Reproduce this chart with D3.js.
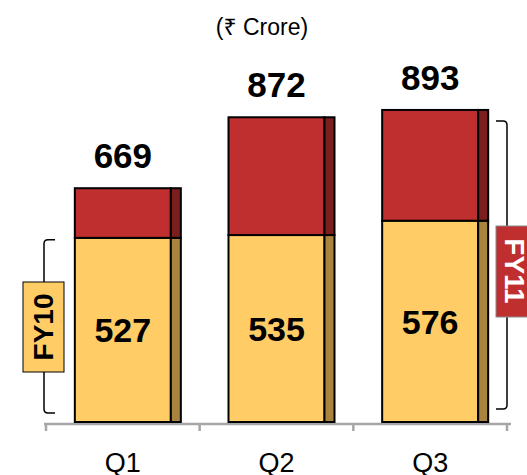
<!DOCTYPE html>
<html>
<head>
<meta charset="utf-8">
<script src="https://cdn.jsdelivr.net/npm/d3@7"></script>
<style>
  body { margin: 0; background: #fff; }
  svg { display: block; font-family: "Liberation Sans", Arial, "Noto Sans", "DejaVu Sans", sans-serif; }
</style>
</head>
<body>
<svg id="chart" width="527" height="475"></svg>
<script>
var quarters = ["Q1", "Q2", "Q3"];
var fy10 = [527, 535, 576];
var totals = [669, 872, 893];
var unitLabel = "(\u20B9 Crore)";

var yellow = "#FFCC66", yellowSide = "#A8843E";
var red = "#BF2F2F", redSide = "#7A1E1E";

var svg = d3.select("#chart");

var xScale = d3.scaleBand()
                .domain(quarters)
                .range([46, 507])
                .padding(0);
var yScale = d3.scaleLinear()
                .domain([0, 900])
                .range([422, 107.5]);

var faceW = 96, sideW = 10;

function faceX(q) { return xScale(q) + xScale.bandwidth()/2 - faceW/2; }

// title
svg.append("text")
    .attr("x", 262).attr("y", 35)
    .attr("text-anchor", "middle")
    .attr("font-size", 23)
    .text(unitLabel);

// axis
var axis = svg.append("g").attr("stroke", "#a6a6a6").attr("stroke-width", 2.5);
axis.append("line")
    .attr("x1", 44).attr("x2", 511)
    .attr("y1", 424).attr("y2", 424);
var edges = quarters.map(function(q) { return xScale(q); }).concat([xScale.range()[1]]);
axis.selectAll("line.tick")
    .data(edges)
    .enter().append("line")
    .attr("class", "tick")
    .attr("x1", function(d) { return d; }).attr("x2", function(d) { return d; })
    .attr("y1", 424).attr("y2", 431);

svg.selectAll("text.q")
    .data(quarters)
    .enter().append("text")
    .attr("class", "q")
    .attr("x", function(d) { return xScale(d) + xScale.bandwidth()/2; })
    .attr("y", 472)
    .attr("text-anchor", "middle")
    .attr("font-size", 27)
    .text(function(d) { return d; });

// bars
var data = quarters.map(function(q, i) { return {q: q, base: fy10[i], total: totals[i]}; });

var bar = svg.selectAll("g.bar")
    .data(data)
    .enter().append("g")
    .attr("class", "bar")
    .attr("stroke", "#000")
    .attr("stroke-width", 2);

// lower (FY10) segment
bar.append("rect")
    .attr("x", function(d) { return faceX(d.q); })
    .attr("y", function(d) { return yScale(d.base); })
    .attr("width", faceW)
    .attr("height", function(d) { return yScale(0) - yScale(d.base); })
    .attr("fill", yellow);
bar.append("rect")
    .attr("x", function(d) { return faceX(d.q) + faceW; })
    .attr("y", function(d) { return yScale(d.base); })
    .attr("width", sideW)
    .attr("height", function(d) { return yScale(0) - yScale(d.base); })
    .attr("fill", yellowSide);

// upper (FY11 increment) segment
bar.append("rect")
    .attr("x", function(d) { return faceX(d.q); })
    .attr("y", function(d) { return yScale(d.total); })
    .attr("width", faceW)
    .attr("height", function(d) { return yScale(d.base) - yScale(d.total); })
    .attr("fill", red);
bar.append("rect")
    .attr("x", function(d) { return faceX(d.q) + faceW; })
    .attr("y", function(d) { return yScale(d.total); })
    .attr("width", sideW)
    .attr("height", function(d) { return yScale(d.base) - yScale(d.total); })
    .attr("fill", redSide);

// labels
svg.selectAll("text.total")
    .data(data)
    .enter().append("text")
    .attr("class", "total")
    .attr("x", function(d) { return faceX(d.q) + faceW/2; })
    .attr("y", function(d) { return yScale(d.total) - 20; })
    .attr("text-anchor", "middle")
    .attr("font-size", 35)
    .attr("font-weight", "bold")
    .text(function(d) { return d.total; });

svg.selectAll("text.base")
    .data(data)
    .enter().append("text")
    .attr("class", "base")
    .attr("x", function(d) { return faceX(d.q) + faceW/2; })
    .attr("y", function(d) { return (yScale(0) + yScale(d.base))/2 + 12.5; })
    .attr("text-anchor", "middle")
    .attr("font-size", 34)
    .attr("font-weight", "bold")
    .text(function(d) { return d.base; });

// brackets
function bracket(x, y1, y2, dir) {
  var s = 11 * dir, r = 4;
  return "M" + (x + s) + "," + y1 +
         " L" + (x + r*dir) + "," + y1 +
         " Q" + x + "," + y1 + " " + x + "," + (y1 + r) +
         " L" + x + "," + (y2 - r) +
         " Q" + x + "," + y2 + " " + (x + r*dir) + "," + y2 +
         " L" + (x + s) + "," + y2;
}

svg.append("path")
    .attr("d", bracket(44, yScale(fy10[0]) + 2, yScale(0) - 9, 1))
    .attr("fill", "none").attr("stroke", "#000").attr("stroke-width", 1.5);
svg.append("path")
    .attr("d", bracket(507, yScale(totals[2]) + 11, yScale(0) - 13, -1))
    .attr("fill", "none").attr("stroke", "#000").attr("stroke-width", 1.5);

// FY10 tag
svg.append("rect")
    .attr("x", 23).attr("y", 282).attr("width", 41).attr("height", 90)
    .attr("fill", yellow).attr("stroke", "#000").attr("stroke-width", 1);
svg.append("text")
    .attr("transform", "translate(53,327) rotate(-90)")
    .attr("text-anchor", "middle")
    .attr("font-size", 28)
    .attr("font-weight", "bold")
    .text("FY10");

// FY11 tag
svg.append("rect")
    .attr("x", 496).attr("y", 226).attr("width", 40).attr("height", 91)
    .attr("fill", red).attr("stroke", "#8a8a8a").attr("stroke-width", 1);
svg.append("text")
    .attr("transform", "translate(505,271) rotate(90)")
    .attr("text-anchor", "middle")
    .attr("font-size", 28)
    .attr("font-weight", "bold")
    .attr("fill", "#fff")
    .text("FY11");
</script>
</body>
</html>
